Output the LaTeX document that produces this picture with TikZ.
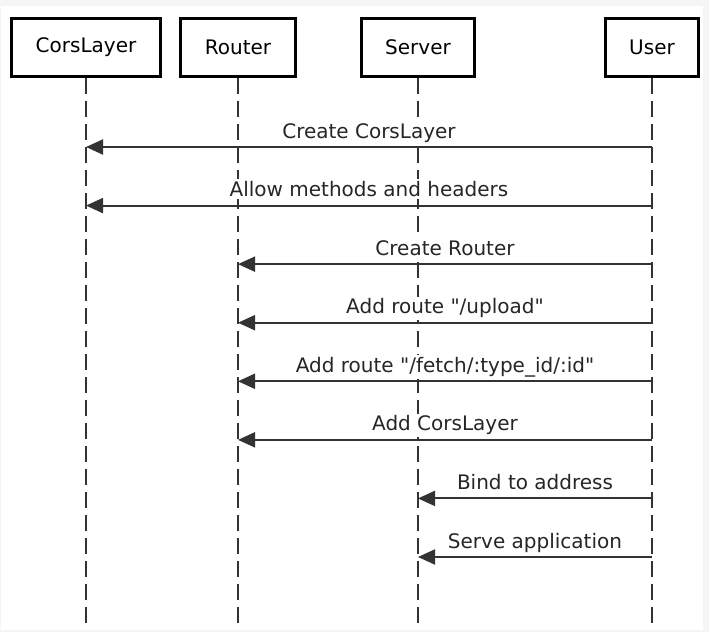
\documentclass[tikz,border=0pt]{standalone}
\usepackage{fontspec}
\setmainfont{DejaVu Sans}
\usetikzlibrary{arrows.meta}

\definecolor{pagegray}{HTML}{F5F5F5}
\definecolor{inkgray}{HTML}{333333}

\tikzset{
  actor/.style={draw=black, line width=2.25pt, fill=white, inner xsep=18pt,
    minimum height=43.5pt, font=\fontsize{15}{18}\selectfont},
  lifeline/.style={draw=inkgray, line width=1.5pt, dash pattern=on 12pt off 5.25pt},
  msg/.style={draw=inkgray, line width=1.5pt, -{Triangle[length=12.75pt,width=11.25pt]}},
  msglabel/.style={anchor=base, yshift=6.75pt, fill=white, inner xsep=1.5pt, inner ysep=1.5pt,
    text=black!85, font=\fontsize{15}{18}\selectfont}
}

\begin{document}
\begin{tikzpicture}[x=0.75pt, y=-0.75pt]

  \newcommand\rowtop{147}
  \newcommand\rowgap{58.57}

  \fill[pagegray] (0,0) rectangle (709,632);
  \fill[white] (1,6) rectangle (703,630);

  %% lifelines
  \coordinate (corsend) at (86,625);
  \coordinate (routerend) at (238,625);
  \coordinate (serverend) at (418,625);
  \coordinate (userend) at (652,625);

  \node[actor] (cors) at (86,47.5) {CorsLayer};
  \node[actor] (router) at (238,47.5) {Router};
  \node[actor] (server) at (418,47.5) {Server};
  \node[actor] (user) at (652,47.5) {User};

  \draw[lifeline] (cors.south) -- (corsend);
  \draw[lifeline] (router.south) -- (routerend);
  \draw[lifeline] (server.south) -- (serverend);
  \draw[lifeline] (user.south) -- (userend);

  %% message rows
  \coordinate (r1) at (0, \rowtop+0*\rowgap);
  \coordinate (r2) at (0, \rowtop+1*\rowgap);
  \coordinate (r3) at (0, \rowtop+2*\rowgap);
  \coordinate (r4) at (0, \rowtop+3*\rowgap);
  \coordinate (r5) at (0, \rowtop+4*\rowgap);
  \coordinate (r6) at (0, \rowtop+5*\rowgap);
  \coordinate (r7) at (0, \rowtop+6*\rowgap);
  \coordinate (r8) at (0, \rowtop+7*\rowgap);

  \draw[msg] (user |- r1) -- node[msglabel] (t1) {Create CorsLayer} (cors |- r1); %% User->CorsLayer
  \draw[msg] (user |- r2) -- node[msglabel] (t2) {Allow methods and headers} (cors |- r2); %% User->CorsLayer
  \draw[msg] (user |- r3) -- node[msglabel] (t3) {Create Router} (router |- r3); %% User->Router
  \draw[msg] (user |- r4) -- node[msglabel] (t4) {Add route \textquotedbl/upload\textquotedbl} (router |- r4); %% User->Router
  \draw[msg] (user |- r5) -- node[msglabel] (t5) {Add route \textquotedbl/fetch/:type\_id/:id\textquotedbl} (router |- r5); %% User->Router
  \draw[msg] (user |- r6) -- node[msglabel] (t6) {Add CorsLayer} (router |- r6); %% User->Router
  \draw[msg] (user |- r7) -- node[msglabel] (t7) {Bind to address} (server |- r7); %% User->Server
  \draw[msg] (user |- r8) -- node[msglabel] (t8) {Serve application} (server |- r8); %% User->Server
\end{tikzpicture}
\end{document}
